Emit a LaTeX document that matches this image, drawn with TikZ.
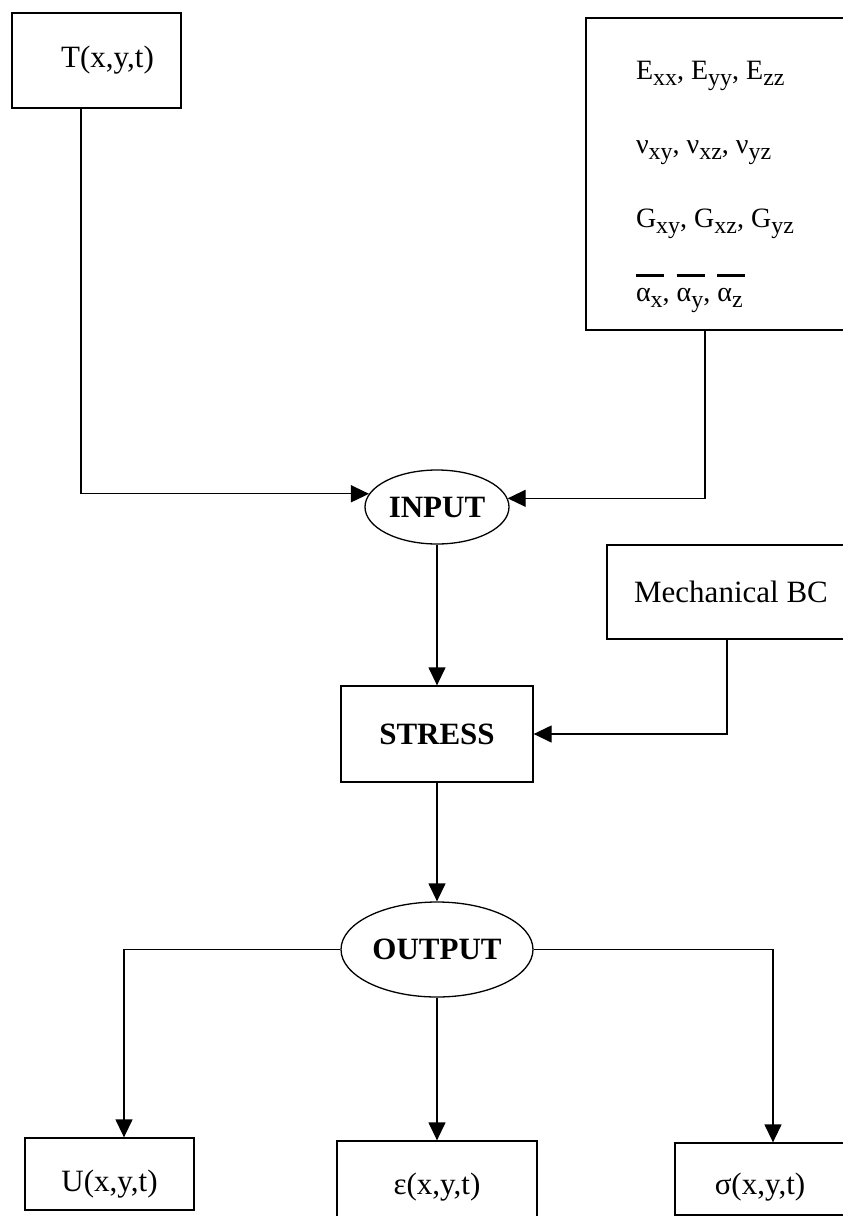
\documentclass[tikz,border=0pt]{standalone}
\usepackage{fontspec}
\setmainfont{Liberation Serif}
\usetikzlibrary{arrows.meta,shapes.geometric}

% lowered index and barred letter for the material box
\newcommand{\lo}[1]{\raisebox{-0.2em}{\fontsize{24}{24}\selectfont #1}}
\newcommand{\abar}[1]{\rlap{\rule[0.9em]{1em}{3pt}}#1}

\begin{document}
\begin{tikzpicture}[
    x=1pt, y=-1pt,
    line width=1.3pt,
    >={Triangle[length=18pt,width=17pt]},
    every node/.style={font=\fontsize{31}{37}\selectfont},
    box/.style={draw, rectangle, inner sep=0pt},
    oval/.style={draw, ellipse, inner sep=0pt, font=\fontsize{31}{37}\selectfont\bfseries}
]
\useasboundingbox (0,0) rectangle (843,1216);
\clip (0,0) rectangle (843,1216);

\node (tbox)   [box, minimum width=169pt, minimum height=95pt] at (96.5,60.5) {\hspace*{22pt}T(x,y,t)};
\node (mat)    [box, minimum width=274pt, minimum height=312pt, inner xsep=50pt] at (723,174)
  {\parbox[c][312pt][t]{174pt}{\fontsize{28}{74}\selectfont\vspace*{43.5pt}%
   E\lo{xx}, E\lo{yy}, E\lo{zz}\\
   ν\lo{xy}, ν\lo{xz}, ν\lo{yz}\\
   G\lo{xy}, G\lo{xz}, G\lo{yz}\\
   \abar{α}\lo{x}, \abar{α}\lo{y}, \abar{α}\lo{z}}};
\node (input)  [oval, minimum width=144pt, minimum height=74pt] at (437,507) {INPUT};
\node (mech)   [box, minimum width=248pt, minimum height=94pt] at (731,592) {Mechanical BC};
\node (stress) [box, minimum width=192pt, minimum height=96pt, font=\fontsize{31}{37}\selectfont\bfseries] at (437,734) {STRESS};
\node (output) [oval, minimum width=192pt, minimum height=95pt] at (437,949.5) {OUTPUT};
\node (ubox)   [box, minimum width=169pt, minimum height=72pt] at (109.5,1174) {\rule{0pt}{42pt}U(x,y,t)};
\node (ebox)   [box, minimum width=200pt, minimum height=92pt] at (437,1187) {ε(x,y,t)};
\node (sbox)   [box, minimum width=170pt, minimum height=72pt] at (760,1179) {\rule{0pt}{37pt}σ(x,y,t)};

% Edges
\draw[->] ([xshift=-15.5pt]tbox.south) |- (input.169);
\draw[->] ([xshift=-18pt]mat.south) |- (input.7);
\draw[->] (input) -- (stress);
\draw[->] ([xshift=-4pt]mech.south) |- (stress.east);
\draw[->] (stress) -- (output);
\draw[->] (output.west) -| ([xshift=14.5pt]ubox.north);
\draw[->] (output) -- (ebox);
\draw[->] (output.east) -| ([xshift=13pt]sbox.north);

\end{tikzpicture}
\end{document}
